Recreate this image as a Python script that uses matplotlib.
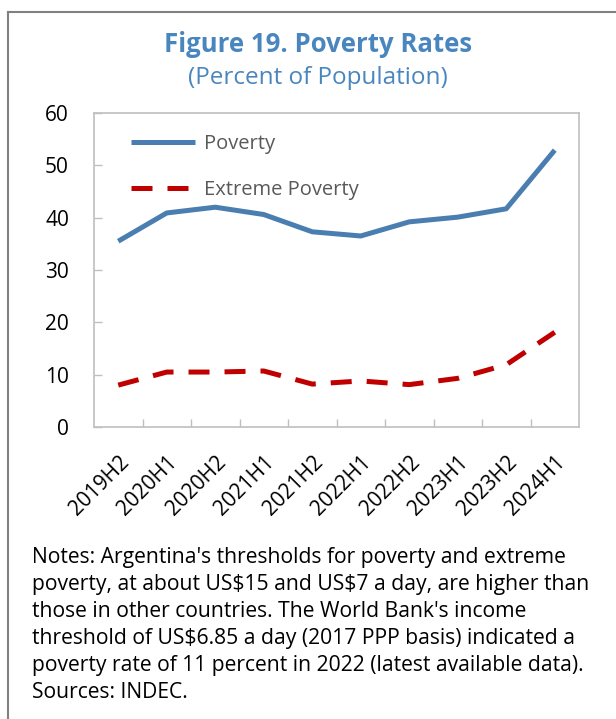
import matplotlib
matplotlib.use("Agg")
import matplotlib.pyplot as plt
from matplotlib.lines import Line2D

plt.rcParams['font.family'] = ['Open Sans', 'DejaVu Sans']
plt.rcParams['text.parse_math'] = False

# data
periods = ['2019H2', '2020H1', '2020H2', '2021H1', '2021H2',
           '2022H1', '2022H2', '2023H1', '2023H2', '2024H1']
poverty = [35.5, 40.9, 42.0, 40.6, 37.3, 36.5, 39.2, 40.1, 41.7, 52.9]
extreme = [8.0, 10.5, 10.5, 10.7, 8.2, 8.8, 8.1, 9.3, 11.9, 18.1]

notes = [
    "Notes: Argentina's thresholds for poverty and extreme",
    "poverty, at about US$15 and US$7 a day, are higher than",
    "those in other countries. The World Bank's income",
    "threshold of US$6.85 a day (2017 PPP basis) indicated a",
    "poverty rate of 11 percent in 2022 (latest available data).",
    "Sources: INDEC.",
]

W, H = 616, 719
fig = plt.figure(figsize=(W / 100, H / 100), dpi=100)

blue = '#4A7DB0'
red = '#C00000'
grey_axis = '#BFBFBF'

ax = fig.add_axes([94 / W, 1 - 427 / H, 485 / W, 314 / H])
x = list(range(len(periods)))
ax.plot(x, poverty, color=blue, lw=3.6, label='Poverty', solid_capstyle='butt')
ax.plot(x, extreme, color=red, lw=3.6, label='Extreme Poverty',
        dashes=(4.2, 3.0))

ax.set_xlim(-0.5, len(periods) - 0.5)
ax.set_ylim(0, 60)
ax.set_yticks(range(0, 61, 10))

# labels at category centres, tick marks at category boundaries
ax.set_xticks(x)
ax.set_xticklabels(periods, rotation=45, ha='right', rotation_mode='anchor')
ax.set_xticks([i + 0.5 for i in x[:-1]], minor=True)
ax.tick_params(axis='x', which='major', length=0, pad=18, labelsize=15)
ax.tick_params(axis='x', which='minor', direction='in', length=5.8,
               width=1, color=grey_axis)
ax.tick_params(axis='y', direction='in', length=5.8, width=1,
               color=grey_axis, labelsize=15, pad=18)

for s in ax.spines.values():
    s.set_color(grey_axis)
    s.set_linewidth(1.2)

leg = ax.legend(loc='upper left', bbox_to_anchor=(37 / 485, 1 - 21 / 314),
                frameon=False, fontsize=14.5, handlelength=3.2,
                handletextpad=0.4, labelspacing=1.3, borderpad=0,
                borderaxespad=0)
for t in leg.get_texts():
    t.set_color('#595959')

# titles
fig.text(318 / W, 1 - 52 / H, 'Figure 19. Poverty Rates', ha='center',
         va='baseline', fontsize=18.5, fontweight='bold', color='#4A86BE')
fig.text(318 / W, 1 - 84 / H, '(Percent of Population)', ha='center',
         va='baseline', fontsize=17.5, color='#4A86BE')

# notes
for i, line in enumerate(notes):
    fig.text(32 / W, 1 - (563 + 27 * i) / H, line, ha='left', va='baseline',
             fontsize=15.2, color='black')

# outer frame (top and left edges)
frame_col = '#808080'
fig.add_artist(Line2D([8 / W, 1], [1 - 12 / H, 1 - 12 / H], color=frame_col,
                      lw=1.5, transform=fig.transFigure))
fig.add_artist(Line2D([8 / W, 8 / W], [1 - 12 / H, 0], color=frame_col,
                      lw=1.5, transform=fig.transFigure))

fig.savefig('out.png', dpi=100)
